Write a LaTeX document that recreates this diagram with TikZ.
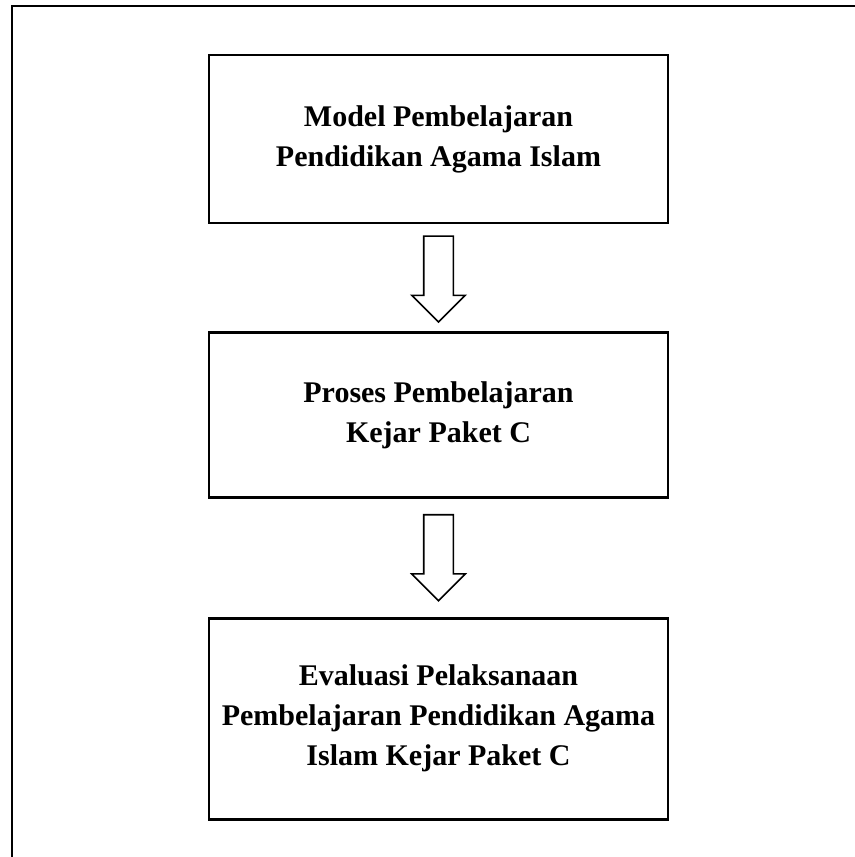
\documentclass[tikz,border=0pt]{standalone}
\usepackage{fontspec}
\setmainfont{Liberation Serif}
\usetikzlibrary{positioning,shapes.arrows,calc}
\tikzstyle{box} = [draw, line width=1.3pt, minimum width=229.5pt, align=center, font=\fontsize{15}{20}\selectfont\bfseries, inner sep=0pt]
\tikzstyle{down} = [draw, line width=0.8pt, single arrow, shape border rotate=270, minimum height=43pt, single arrow head extend=6pt, inner sep=7pt, anchor=tail]

\begin{document}
\begin{tikzpicture}

\useasboundingbox (0,0) rectangle (427.5pt,-428.5pt);
\draw[line width=1.3pt] (6pt,-428.5pt) |- (427.5pt,-3pt);

\node[box, minimum height=84pt] (model) at (219.25pt,-69.5pt) {Model Pembelajaran\\Pendidikan Agama Islam};
\node[box, minimum height=82.5pt, below=53.5pt of model] (proses) {Proses Pembelajaran\\Kejar Paket C};
\node[box, minimum height=100.5pt, below=59pt of proses] (evaluasi) {Evaluasi Pelaksanaan\\Pembelajaran Pendidikan Agama\\Islam Kejar Paket C};

\node[down] (a1) at ([yshift=-5.5pt]model.south) {};
\node[down] (a2) at ([yshift=-7.5pt]proses.south) {};

\end{tikzpicture}
\end{document}
